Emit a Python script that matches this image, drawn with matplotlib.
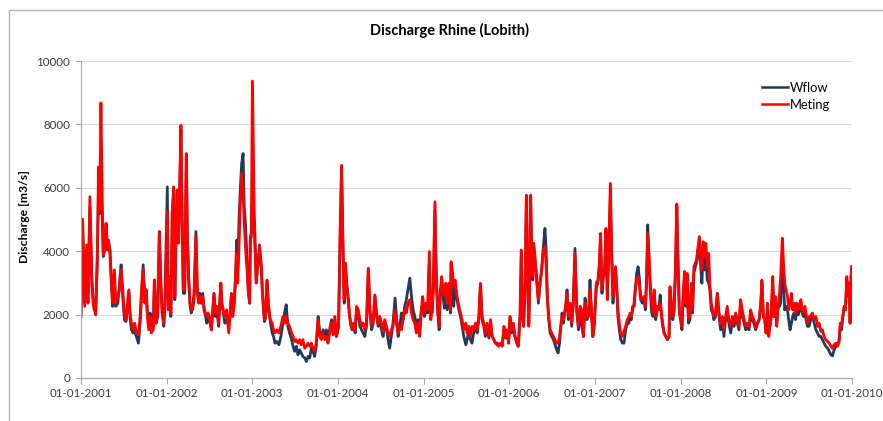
import matplotlib.pyplot as plt
import matplotlib.dates as mdates
import numpy as np
from matplotlib.patches import Rectangle

plt.rcParams['font.family'] = ['Lato', 'DejaVu Sans']

# days since 01-01-2001, discharge in m3/s
days = [
    # 2001
    0, 7, 16, 24, 30, 38, 46, 53, 63, 70, 75, 80, 85, 90, 95, 101, 107, 112, 118, 124,
    130, 135, 142, 148, 157, 164, 171, 178, 185, 192, 204, 209, 215, 222, 229, 236, 245, 252, 258, 265,
    272, 278, 283, 289, 295, 300, 308, 313, 320, 327, 334, 340, 346, 353, 358,
    # 2002
    368, 372, 378, 383, 389, 395, 400, 406, 410, 416, 422, 426, 430, 436, 442, 449, 453, 459, 465, 470,
    476, 482, 490, 496, 502, 507, 513, 519, 524, 530, 536, 542, 547, 556, 562, 567, 573, 579, 587, 596,
    601, 607, 613, 621, 630, 636, 641, 647, 653, 658, 664, 668, 674, 679, 685, 691, 696, 702, 708, 713,
    719, 722, 726,
    # 2003
    731, 740, 747, 754, 761, 768, 775, 782, 787, 793, 800, 807, 815, 821, 827, 835, 844, 852, 861, 870,
    875, 882, 889, 898, 904, 911, 918, 925, 932, 939, 946, 954, 961, 968, 975, 982, 989, 996, 1003, 1011,
    1018, 1025, 1032, 1039, 1046, 1053, 1060, 1068, 1075, 1082, 1089,
    # 2004
    1098, 1105, 1111, 1116, 1122, 1128, 1133, 1139, 1145, 1151, 1156, 1163, 1169, 1175, 1182, 1189, 1196, 1203, 1210, 1217,
    1225, 1232, 1239, 1246, 1253, 1260, 1267, 1274, 1281, 1288, 1295, 1302, 1309, 1316, 1323, 1330, 1339, 1345, 1352, 1359,
    1366, 1373, 1380, 1387, 1394, 1402, 1409, 1416, 1423, 1430, 1437, 1444, 1451, 1457,
    # 2005
    1464, 1471, 1478, 1485, 1491, 1497, 1502, 1509, 1515, 1521, 1527, 1532, 1538, 1544, 1549, 1555, 1561, 1568, 1575, 1578,
    1583, 1589, 1595, 1603, 1611, 1618, 1625, 1632, 1641, 1646, 1653, 1660, 1667, 1674, 1682, 1689, 1696, 1703, 1710, 1717,
    1724, 1731, 1739, 1746, 1753, 1760, 1767, 1774, 1781, 1788, 1796, 1803, 1810, 1817, 1823,
    # 2006
    1829, 1836, 1843, 1850, 1857, 1864, 1872, 1877, 1882, 1887, 1893, 1899, 1903, 1909, 1913, 1917, 1921, 1926, 1930, 1936,
    1943, 1950, 1957, 1964, 1971, 1978, 1983, 1988, 1994, 2000, 2007, 2014, 2021, 2028, 2034, 2040, 2045, 2051, 2057, 2062,
    2068, 2072, 2078, 2085, 2092, 2099, 2106, 2114, 2121, 2128, 2135, 2142, 2149, 2156, 2163, 2170, 2176, 2182, 2188,
    # 2007
    2197, 2204, 2210, 2215, 2221, 2227, 2232, 2238, 2244, 2249, 2257, 2262, 2268, 2274, 2279, 2284, 2289, 2295, 2301, 2308,
    2315, 2322, 2329, 2336, 2341, 2346, 2352, 2358, 2363, 2369, 2375, 2380, 2386, 2393, 2400, 2406, 2411, 2416, 2422, 2427,
    2433, 2439, 2444, 2450, 2457, 2465, 2469, 2475, 2480, 2486, 2493, 2500, 2507, 2511, 2517, 2523, 2528, 2534, 2540, 2546,
    2551,
    # 2008
    2556, 2562, 2567, 2573, 2579, 2584, 2590, 2596, 2602, 2607, 2613, 2619, 2624, 2630, 2636, 2641, 2647, 2653, 2659, 2664,
    2670, 2676, 2681, 2687, 2693, 2698, 2705, 2713, 2720, 2727, 2734, 2741, 2748, 2755, 2762, 2770, 2777, 2784, 2791, 2798,
    2805, 2812, 2819, 2827, 2834, 2841, 2848, 2855, 2862, 2869, 2876, 2883, 2891, 2898, 2903, 2909, 2915,
    # 2009
    2921, 2926, 2932, 2938, 2943, 2949, 2955, 2960, 2966, 2972, 2978, 2983, 2990, 2995, 3000, 3006, 3012, 3017, 3023, 3029,
    3034, 3040, 3046, 3052, 3057, 3063, 3069, 3074, 3080, 3086, 3091, 3097, 3104, 3111, 3118, 3126, 3133, 3140, 3147, 3154,
    3161, 3168, 3175, 3183, 3190, 3197, 3204, 3211, 3218, 3225, 3231, 3237, 3242, 3248, 3254, 3259, 3265, 3269, 3275, 3279,
    3283, 3286,
]

wflow = [
    # 2001
    2050, 4670, 2360, 4040, 2670, 5400, 3200, 2360, 2150, 3830, 6140, 5190, 5720, 5190, 3830, 4040, 4830, 4250, 4250, 4040,
    2880, 2260, 3300, 2260, 2360, 2990, 3570, 2570, 1840, 1780, 2730, 1940, 1520, 1420, 1470, 1310, 1100, 1730, 2570, 3570,
    2570, 2780, 2050, 1630, 2050, 1520, 1630, 3090, 1730, 1940, 4620, 2990, 2050, 1630, 2470,
    # 2002
    6030, 2260, 2990, 1940, 5190, 5930, 2470, 4830, 5820, 4350, 6350, 7820, 5610, 2670, 2670, 6980, 4670, 3090, 2260, 2050,
    2260, 2670, 4620, 2780, 2410, 2670, 2360, 2670, 2150, 1990, 1730, 1940, 1840, 1520, 2150, 2670, 1940, 2150, 1630, 2990,
    2260, 2050, 1730, 1840, 1630, 1940, 2570, 2360, 2360, 3090, 4350, 3410, 5090, 5930, 6770, 7080, 5400, 4770, 3720, 2780,
    2360, 4350, 4460,
    # 2003
    5500, 4880, 3090, 3510, 4090, 3510, 2470, 1780, 1890, 2990, 2150, 1780, 1420, 1310, 1100, 1150, 1050, 1310, 1730, 2150,
    2310, 1630, 1420, 1210, 1000, 840, 1000, 730, 890, 790, 680, 630, 520, 680, 630, 940, 840, 680, 1000, 1940,
    1420, 1310, 1520, 1310, 1520, 1310, 1520, 1840, 1420, 1840, 1310,
    # 2004
    1630, 4560, 6660, 4460, 2360, 3410, 2880, 2470, 1940, 1630, 1520, 1630, 1420, 2150, 2050, 1630, 1520, 1420, 1310, 1630,
    3410, 2050, 1520, 1730, 2570, 1940, 1630, 1890, 1520, 1310, 1780, 1570, 1210, 940, 1310, 1730, 2520, 1940, 1310, 1630,
    2050, 1840, 2260, 2470, 2780, 3150, 2570, 2150, 1940, 1630, 1840, 1420, 2150, 2360,
    # 2005
    1940, 2150, 2050, 3620, 2050, 2050, 2780, 5300, 3090, 2050, 1520, 2670, 2990, 2570, 2200, 2880, 2150, 2780, 2050, 3620,
    3090, 2260, 2990, 2470, 2150, 1940, 1630, 1310, 1050, 1210, 1470, 1210, 1100, 1420, 1630, 1420, 1840, 2940, 1840, 1630,
    1310, 1630, 1260, 1730, 1310, 1210, 1100, 1100, 1050, 1100, 1050, 1520, 1260, 1420, 1100,
    # 2006
    1840, 1420, 1630, 1310, 1210, 1000, 1940, 3830, 1940, 1630, 2780, 5720, 3510, 1730, 2780, 5720, 4040, 3090, 4140, 3620,
    3200, 2360, 2990, 3410, 4140, 4720, 4040, 2570, 1840, 1420, 1310, 1210, 1050, 890, 790, 1100, 1520, 2050, 1730, 2050,
    2360, 2780, 1840, 2260, 1630, 2360, 4090, 2050, 1520, 2050, 1630, 1310, 2520, 1840, 1940, 3090, 2150, 1310, 1630,
    # 2007
    2880, 2990, 3510, 4460, 2670, 3200, 3300, 4620, 2570, 3720, 5720, 4040, 2360, 3090, 3410, 2780, 1940, 1520, 1210, 1100,
    1100, 1520, 1730, 1730, 1940, 1840, 2260, 2260, 2780, 3300, 3510, 3200, 2470, 2360, 2470, 2150, 2990, 4830, 3620, 2780,
    2050, 1940, 2670, 1840, 2150, 2260, 2620, 1940, 1630, 1420, 1310, 1210, 1310, 2780, 2260, 1840, 2050, 3200, 5400, 3410,
    2050,
    # 2008
    1840, 1520, 2470, 3200, 2260, 3200, 1730, 1840, 2880, 2050, 3300, 3510, 3620, 4040, 3930, 3620, 2990, 4040, 3410, 3930,
    3090, 2990, 2780, 2150, 2050, 1840, 1940, 2670, 1940, 1520, 1840, 1310, 1840, 2050, 1730, 1420, 1840, 1630, 1940, 1730,
    1520, 2360, 1940, 1730, 1520, 1630, 1520, 1940, 1840, 1730, 1520, 1680, 1840, 2260, 2990, 1940, 1840,
    # 2009
    1420, 2150, 1420, 1630, 1940, 2990, 1940, 2360, 1730, 2260, 2260, 2360, 3830, 2990, 2150, 2260, 2150, 1840, 1520, 1730,
    1940, 2050, 1840, 2360, 1990, 2150, 2360, 2050, 1940, 2150, 1840, 1630, 1630, 1840, 1940, 1730, 1520, 1420, 1310, 1310,
    1210, 1100, 1000, 940, 840, 730, 700, 890, 1000, 1100, 1100, 1630, 1520, 1940, 2260, 2150, 3090, 2570, 2990, 1730,
    3200, 3510,
]

meting = [
    # 2001
    1940, 5010, 2260, 4200, 2360, 5720, 2990, 2260, 1990, 4040, 6660, 5300, 8680, 5930, 3880, 4040, 4880, 4040, 4350, 3830,
    2990, 2360, 3410, 2360, 2570, 2780, 3410, 2780, 2050, 1840, 2780, 2050, 1730, 1520, 1730, 1420, 1360, 1940, 2780, 3410,
    2360, 2780, 1940, 1520, 1940, 1420, 1520, 3090, 1730, 2050, 4560, 3090, 2150, 1730, 2360,
    # 2002
    5250, 2150, 3200, 2050, 5090, 6030, 2570, 4880, 5930, 4250, 6240, 7970, 5610, 2780, 2780, 7080, 4560, 3200, 2360, 2150,
    2150, 2470, 4460, 2670, 2360, 2570, 2360, 2570, 2260, 2050, 1940, 2050, 1940, 1520, 2150, 2670, 2050, 2260, 1730, 2990,
    2360, 2150, 1940, 2150, 1420, 2050, 2670, 1940, 2260, 2990, 3930, 2990, 4250, 5400, 6450, 5930, 4880, 4040, 3410, 2780,
    2360, 4460, 4560,
    # 2003
    9370, 4460, 2990, 3620, 4200, 3620, 2570, 1840, 1940, 3090, 2260, 1840, 1730, 1520, 1420, 1520, 1420, 1630, 1940, 1730,
    1940, 1730, 1630, 1420, 1310, 1150, 1210, 1100, 1210, 1050, 1210, 940, 1000, 1100, 1000, 1100, 940, 840, 1100, 1840,
    1310, 1210, 1420, 1210, 1310, 1100, 1420, 1730, 1360, 1940, 1310,
    # 2004
    1630, 4560, 6710, 4460, 2470, 3620, 2990, 2570, 1940, 1730, 1520, 1730, 1520, 2260, 2150, 1840, 1630, 1730, 1520, 1730,
    3460, 2150, 1630, 1840, 2620, 2050, 1730, 1940, 1730, 1470, 1840, 1630, 1420, 1310, 1520, 1630, 2150, 1730, 1420, 1630,
    1520, 1840, 2150, 2050, 2360, 2470, 2050, 1840, 1730, 1420, 1730, 1310, 2150, 2570,
    # 2005
    2050, 2360, 2150, 3990, 1840, 2150, 2880, 5560, 2990, 2150, 1630, 2780, 3200, 2670, 2600, 2990, 2360, 2990, 2150, 3670,
    3410, 2880, 3090, 2570, 2260, 2050, 1840, 1520, 1730, 1420, 1630, 1310, 1630, 1520, 1730, 1520, 1940, 2990, 1940, 1730,
    1420, 1730, 1310, 1840, 1310, 1210, 1100, 1050, 1000, 1100, 1000, 1630, 1310, 1520, 1100,
    # 2006
    1940, 1520, 1730, 1310, 1100, 1000, 1940, 4040, 2150, 1630, 2990, 5770, 3620, 1630, 2990, 5770, 4040, 3200, 4250, 3830,
    2990, 2470, 2990, 3410, 4040, 4140, 3620, 2570, 1940, 1520, 1420, 1310, 1210, 1100, 1100, 1310, 1630, 1940, 1840, 2050,
    2360, 2670, 1940, 2360, 1730, 2470, 3930, 2150, 1630, 2260, 2150, 1310, 2360, 1940, 1940, 2780, 2150, 1310, 1730,
    # 2007
    2990, 3090, 3620, 4560, 2780, 3300, 3410, 4720, 2470, 3830, 6140, 4040, 2570, 3200, 3510, 2880, 2150, 1730, 1420, 1310,
    1470, 1630, 1840, 1940, 2050, 1940, 2150, 2360, 2780, 3090, 3200, 2990, 2570, 2470, 2570, 2260, 2990, 4560, 3830, 2990,
    2360, 2050, 2780, 1940, 2260, 2150, 2360, 2050, 1730, 1420, 1310, 1210, 1310, 2880, 2360, 1940, 2150, 3410, 5490, 3510,
    2150,
    # 2008
    1940, 1630, 2570, 3360, 2360, 3300, 1840, 1940, 2990, 2150, 3510, 3620, 3720, 4090, 4460, 4040, 3410, 4300, 3830, 4250,
    3510, 3930, 2990, 2360, 2150, 1940, 2050, 2670, 2050, 1730, 1940, 1520, 1940, 2260, 1840, 1630, 1940, 1730, 2050, 1840,
    1630, 2470, 2150, 1840, 1630, 1730, 1630, 2150, 1940, 1840, 1570, 1730, 1840, 2360, 3090, 1940, 1840,
    # 2009
    1420, 2360, 1310, 1730, 2150, 3200, 1940, 2570, 1630, 2260, 2670, 3200, 4410, 3620, 2990, 2780, 2570, 2150, 2360, 2670,
    2150, 2360, 2050, 2360, 2150, 2260, 2470, 2150, 2050, 2260, 2050, 1730, 1940, 1940, 2050, 1840, 1940, 1630, 1730, 1470,
    1520, 1310, 1210, 1150, 1100, 1000, 940, 1050, 1100, 1000, 1100, 1730, 1630, 1940, 2260, 2150, 3200, 2570, 2990, 1730,
    3200, 3510,
]

dates = np.datetime64('2001-01-01') + np.array(days).astype('timedelta64[D]')

fig = plt.figure(figsize=(8.83, 4.21), dpi=100)
ax = fig.add_axes([81 / 883, 1 - 378 / 421, 771 / 883, 317 / 421])

# chart border
fig.patches.append(Rectangle((9 / 883, -0.1), 1.2, (421 - 10) / 421 + 0.1,
                             transform=fig.transFigure, fill=False,
                             edgecolor='#b4b4b4', lw=1))

ax.plot(dates, wflow, color='#213a5c', lw=2, label='Wflow')
ax.plot(dates, meting, color='#ff0000', lw=2, label='Meting')

ax.set_xlim(np.datetime64('2001-01-01'), np.datetime64('2010-01-01'))
ax.set_ylim(0, 10000)
ax.set_yticks(range(0, 10001, 2000))
ax.xaxis.set_major_locator(mdates.YearLocator())
ax.xaxis.set_major_formatter(mdates.DateFormatter('%d-%m-%Y'))

ax.grid(axis='y', color='#d9d9d9', lw=0.8)
ax.set_axisbelow(True)
for s in ['top', 'right']:
    ax.spines[s].set_visible(False)
for s in ['left', 'bottom']:
    ax.spines[s].set_color('#a6a6a6')
ax.tick_params(direction='out', length=4, color='#a6a6a6', labelsize=8.3,
               labelcolor='#3a3a3a')
ax.tick_params(axis='x', pad=3)
ax.tick_params(axis='y', pad=4)

ax.set_ylabel('Discharge [m3/s]', fontsize=8.7, fontweight='bold', color='#000000')
ax.yaxis.set_label_coords(-0.066, 0.51)

fig.text(450 / 883, 1 - 30 / 421, 'Discharge Rhine (Lobith)', ha='center', va='center',
         fontsize=10.5, fontweight='bold')

leg = ax.legend(loc='upper left', bbox_to_anchor=(0.8755, 0.955), frameon=False,
                fontsize=9.3, handlelength=1.95, handletextpad=0.15, borderpad=0,
                labelspacing=0.4)
for line in leg.get_lines():
    line.set_linewidth(1.8)

plt.savefig('out.png', dpi=100)
